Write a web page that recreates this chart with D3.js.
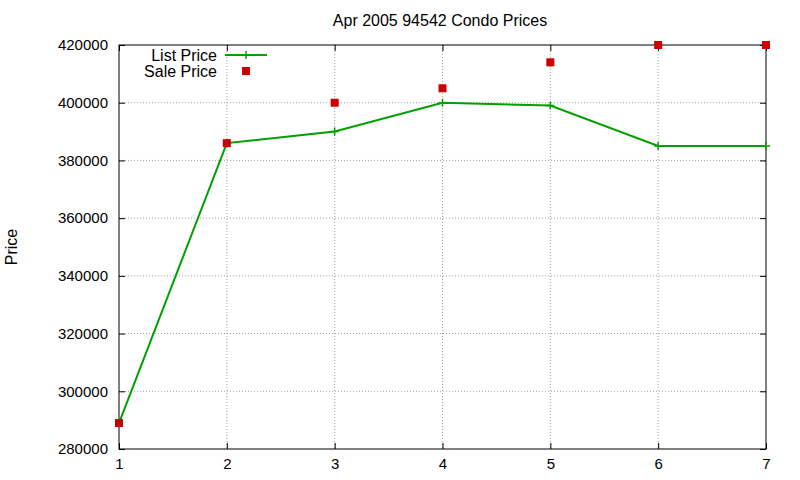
<!DOCTYPE html>
<html><head><meta charset="utf-8">
<script src="https://cdn.jsdelivr.net/npm/d3@7"></script>
<style>body{margin:0;background:#fff}svg{font-family:"Liberation Sans",Arial,sans-serif}</style>
</head><body><svg id="c" width="800" height="480"></svg>
<script>
const xValues = [1,2,3,4,5,6,7];
const listPrice = [289000,386000,390000,400000,399000,385000,385000];
const salePrice = [289000,386000,400000,405000,414000,420000,420000];
const yTicks = [280000,300000,320000,340000,360000,380000,400000,420000];
const title = "Apr 2005 94542 Condo Prices";

const svg = d3.select("#c");
const L=119,R=766,T=45,B=449;
const x = d3.scaleLinear().domain([1,7]).range([L,R]);
const y = d3.scaleLinear().domain([280000,420000]).range([B,T]);

svg.append("g").selectAll("line").data(xValues.slice(1,-1)).join("line")
  .attr("x1",d=>x(d)).attr("x2",d=>x(d)).attr("y1",T).attr("y2",B)
  .attr("stroke","#a0a0a0").attr("stroke-dasharray","1,2");
svg.append("g").selectAll("line").data(yTicks.slice(1,-1)).join("line")
  .attr("x1",L).attr("x2",R).attr("y1",d=>y(d)).attr("y2",d=>y(d))
  .attr("stroke","#a0a0a0").attr("stroke-dasharray","1,2");

const ya = svg.append("g").attr("transform",`translate(${L},0)`)
  .call(d3.axisLeft(y).tickValues(yTicks).tickFormat(d3.format("d")).tickSizeInner(-6).tickSizeOuter(0).tickPadding(11));
const ya2 = svg.append("g").attr("transform",`translate(${R},0)`)
  .call(d3.axisRight(y).tickValues(yTicks).tickFormat("").tickSizeInner(-6).tickSizeOuter(0));
const xa = svg.append("g").attr("transform",`translate(0,${B})`)
  .call(d3.axisBottom(x).tickValues(xValues).tickFormat(d3.format("d")).tickSizeInner(-6).tickSizeOuter(0).tickPadding(9));
const xa2 = svg.append("g").attr("transform",`translate(0,${T})`)
  .call(d3.axisTop(x).tickValues(xValues).tickFormat("").tickSizeInner(-6).tickSizeOuter(0));
[ya,ya2,xa,xa2].forEach(g=>{g.select(".domain").remove();g.selectAll("text").attr("font-size",15).attr("fill","#000").attr("font-family","Liberation Sans, Arial, sans-serif");g.selectAll("line").attr("stroke","#000");});
svg.append("rect").attr("x",L).attr("y",T).attr("width",R-L).attr("height",B-T)
  .attr("fill","none").attr("stroke","#000");

const line = d3.line().x((d,i)=>x(xValues[i])).y(d=>y(d));
svg.append("path").datum(listPrice).attr("d",line).attr("fill","none").attr("stroke","#00a000").attr("stroke-width",2);
const plus=(g,cx,cy)=>{g.append("path").attr("d",`M${cx-4},${cy}H${cx+4}M${cx},${cy-4}V${cy+4}`).attr("stroke","#00a000").attr("stroke-width",1.5);};
const pg = svg.append("g");
listPrice.forEach((d,i)=>plus(pg,x(xValues[i]),y(d)));
svg.append("g").selectAll("rect").data(salePrice).join("rect")
  .attr("x",(d,i)=>x(xValues[i])-4).attr("y",d=>y(d)-4).attr("width",8).attr("height",8).attr("fill","#cc0000");

svg.append("text").attr("x",217).attr("y",61).attr("text-anchor","end").attr("font-size",16).text("List Price");
svg.append("line").attr("x1",225).attr("x2",267).attr("y1",55).attr("y2",55).attr("stroke","#00a000").attr("stroke-width",2);
plus(svg,246,55);
svg.append("text").attr("x",217).attr("y",77).attr("text-anchor","end").attr("font-size",16).text("Sale Price");
svg.append("rect").attr("x",242).attr("y",67).attr("width",8).attr("height",8).attr("fill","#cc0000");

svg.append("text").attr("x",440).attr("y",26).attr("text-anchor","middle").attr("font-size",16).text(title);
svg.append("text").attr("transform","translate(17,247) rotate(-90)").attr("text-anchor","middle").attr("font-size",16).text("Price");
</script></body></html>
